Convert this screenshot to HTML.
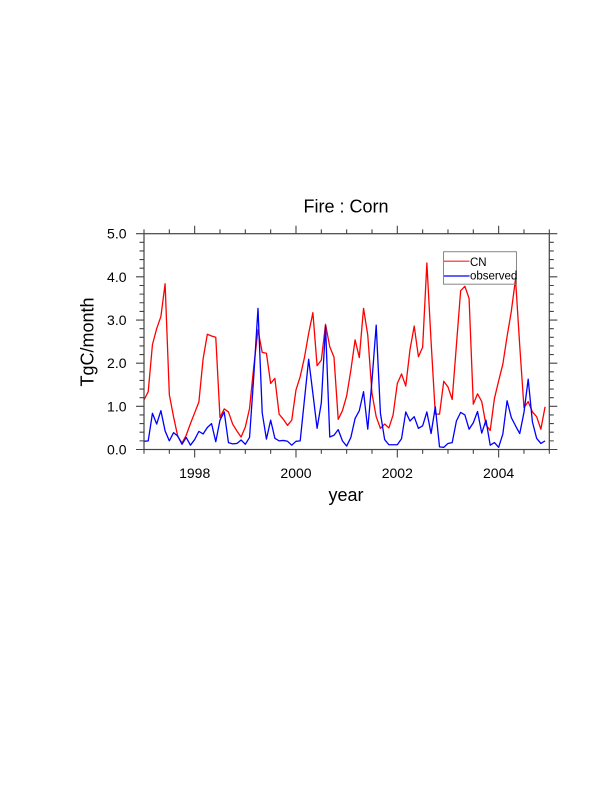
<!DOCTYPE html>
<html>
<head>
<meta charset="utf-8">
<style>
  html, body { margin:0; padding:0; background:#fff; }
  body { width:612px; height:792px; overflow:hidden; }
  svg { display:block; }
  text { font-family:"Liberation Sans", "DejaVu Sans", sans-serif; fill:#000; }
</style>
</head>
<body>
<svg width="612" height="792" viewBox="0 0 612 792" xmlns="http://www.w3.org/2000/svg">
  <rect x="0" y="0" width="612" height="792" fill="#fff"/>

  <!-- Title -->
  <text x="346" y="212.7" font-size="18" text-anchor="middle">Fire : Corn</text>

  <!-- Data series -->
  <g transform="translate(144,449.5) scale(4.2219,-43.16)" fill="none">
    <polyline vector-effect="non-scaling-stroke" stroke="#ff0000" stroke-width="1.3" stroke-linejoin="round"
      points="0,1.15 1,1.34 2,2.43 3,2.8 4,3.08 5,3.84 6,1.27 7,0.76 8,0.3 9,0.15 10,0.33 11,0.6 12,0.85 13,1.1 14,2.1 15,2.67 16,2.63 17,2.6 18,0.74 19,0.94 20,0.87 21,0.59 22,0.43 23,0.29 24,0.52 25,0.95 26,1.92 27,2.77 28,2.25 29,2.23 30,1.53 31,1.65 32,0.82 33,0.7 34,0.56 35,0.68 36,1.38 37,1.69 38,2.13 39,2.69 40,3.17 41,1.94 42,2.07 43,2.9 44,2.38 45,2.14 46,0.7 47,0.9 48,1.24 49,1.84 50,2.54 51,2.13 52,3.27 53,2.65 54,1.3 55,0.76 56,0.49 57,0.59 58,0.5 59,0.8 60,1.53 61,1.75 62,1.47 63,2.31 64,2.86 65,2.15 66,2.37 67,4.32 68,2.5 69,0.82 70,0.82 71,1.58 72,1.45 73,1.16 74,2.42 75,3.68 76,3.78 77,3.5 78,1.05 79,1.29 80,1.11 81,0.57 82,0.44 83,1.18 84,1.59 85,1.98 86,2.62 87,3.2 88,3.95 89,2.4 90,0.97 91,1.11 92,0.87 93,0.76 94,0.47 95,0.99"/>
    <polyline vector-effect="non-scaling-stroke" stroke="#0000ff" stroke-width="1.3" stroke-linejoin="round"
      points="0,0.19 1,0.2 2,0.84 3,0.59 4,0.9 5,0.43 6,0.2 7,0.39 8,0.31 9,0.12 10,0.28 11,0.1 12,0.23 13,0.42 14,0.36 15,0.51 16,0.6 17,0.18 18,0.68 19,0.87 20,0.16 21,0.13 22,0.14 23,0.22 24,0.12 25,0.28 26,1.7 27,3.27 28,0.85 29,0.24 30,0.68 31,0.26 32,0.2 33,0.21 34,0.19 35,0.1 36,0.19 37,0.2 38,1.15 39,2.09 40,1.3 41,0.49 42,1.08 43,2.86 44,0.29 45,0.33 46,0.46 47,0.2 48,0.08 49,0.28 50,0.72 51,0.9 52,1.34 53,0.47 54,1.6 55,2.88 56,0.84 57,0.23 58,0.11 59,0.11 60,0.11 61,0.25 62,0.87 63,0.66 64,0.76 65,0.49 66,0.55 67,0.87 68,0.37 69,0.99 70,0.06 71,0.05 72,0.14 73,0.16 74,0.66 75,0.86 76,0.8 77,0.47 78,0.62 79,0.88 80,0.38 81,0.68 82,0.1 83,0.16 84,0.05 85,0.36 86,1.13 87,0.74 88,0.55 89,0.37 90,0.86 91,1.63 92,0.64 93,0.26 94,0.14 95,0.2"/>
  </g>

  <!-- Frame -->
  <rect x="144" y="233.7" width="405.3" height="215.8" fill="none" stroke="#444" stroke-width="1.2"/>

  <!-- Y ticks (left & right), y in data units -->
  <g transform="translate(0,449.5) scale(1,-43.16)" fill="none" stroke="#444" stroke-width="1.1">
    <path vector-effect="non-scaling-stroke"
      d="M136,0 H144 M136,1 H144 M136,2 H144 M136,3 H144 M136,4 H144 M136,5 H144
         M549.3,0 H557.3 M549.3,1 H557.3 M549.3,2 H557.3 M549.3,3 H557.3 M549.3,4 H557.3 M549.3,5 H557.3"/>
    <path vector-effect="non-scaling-stroke"
      d="M139.5,0.2 H144 M139.5,0.4 H144 M139.5,0.6 H144 M139.5,0.8 H144
         M139.5,1.2 H144 M139.5,1.4 H144 M139.5,1.6 H144 M139.5,1.8 H144
         M139.5,2.2 H144 M139.5,2.4 H144 M139.5,2.6 H144 M139.5,2.8 H144
         M139.5,3.2 H144 M139.5,3.4 H144 M139.5,3.6 H144 M139.5,3.8 H144
         M139.5,4.2 H144 M139.5,4.4 H144 M139.5,4.6 H144 M139.5,4.8 H144
         M549.3,0.2 H553.8 M549.3,0.4 H553.8 M549.3,0.6 H553.8 M549.3,0.8 H553.8
         M549.3,1.2 H553.8 M549.3,1.4 H553.8 M549.3,1.6 H553.8 M549.3,1.8 H553.8
         M549.3,2.2 H553.8 M549.3,2.4 H553.8 M549.3,2.6 H553.8 M549.3,2.8 H553.8
         M549.3,3.2 H553.8 M549.3,3.4 H553.8 M549.3,3.6 H553.8 M549.3,3.8 H553.8
         M549.3,4.2 H553.8 M549.3,4.4 H553.8 M549.3,4.6 H553.8 M549.3,4.8 H553.8"/>
  </g>

  <!-- X ticks (bottom & top), x in years since 1997 -->
  <g transform="translate(144,0) scale(50.6625,1)" fill="none" stroke="#444" stroke-width="1.1">
    <path vector-effect="non-scaling-stroke"
      d="M1,449.5 V457.5 M3,449.5 V457.5 M5,449.5 V457.5 M7,449.5 V457.5
         M1,233.7 V225.7 M3,233.7 V225.7 M5,233.7 V225.7 M7,233.7 V225.7"/>
    <path vector-effect="non-scaling-stroke"
      d="M0,449.5 V453.8 M0.5,449.5 V453.8 M1.5,449.5 V453.8 M2,449.5 V453.8 M2.5,449.5 V453.8 M3.5,449.5 V453.8 M4,449.5 V453.8 M4.5,449.5 V453.8 M5.5,449.5 V453.8 M6,449.5 V453.8 M6.5,449.5 V453.8 M7.5,449.5 V453.8 M8,449.5 V453.8
         M0,233.7 V229.4 M0.5,233.7 V229.4 M1.5,233.7 V229.4 M2,233.7 V229.4 M2.5,233.7 V229.4 M3.5,233.7 V229.4 M4,233.7 V229.4 M4.5,233.7 V229.4 M5.5,233.7 V229.4 M6,233.7 V229.4 M6.5,233.7 V229.4 M7.5,233.7 V229.4 M8,233.7 V229.4"/>
  </g>

  <!-- Y tick labels -->
  <g font-size="14" text-anchor="end">
    <text x="126.5" y="454.5">0.0</text>
    <text x="126.5" y="411.3">1.0</text>
    <text x="126.5" y="368.2">2.0</text>
    <text x="126.5" y="325">3.0</text>
    <text x="126.5" y="281.9">4.0</text>
    <text x="126.5" y="238.7">5.0</text>
  </g>

  <!-- X tick labels -->
  <g font-size="14" text-anchor="middle">
    <text x="194.7" y="478">1998</text>
    <text x="296" y="478">2000</text>
    <text x="397.3" y="478">2002</text>
    <text x="498.6" y="478">2004</text>
  </g>

  <!-- Axis titles -->
  <text x="346" y="501" font-size="18" text-anchor="middle">year</text>
  <text transform="translate(93.3,342) rotate(-90)" font-size="18" text-anchor="middle">TgC/month</text>

  <!-- Legend -->
  <rect x="443.5" y="251.7" width="73" height="32.5" fill="none" stroke="#888" stroke-width="1"/>
  <line x1="444" y1="261.2" x2="469.5" y2="261.2" stroke="#ff5a5a" stroke-width="1.5"/>
  <text x="470" y="265.8" font-size="11.5">CN</text>
  <line x1="444" y1="276" x2="469.5" y2="276" stroke="#0000ff" stroke-width="1.2"/>
  <text x="470" y="279.6" font-size="11.5">observed</text>
</svg>
</body>
</html>
